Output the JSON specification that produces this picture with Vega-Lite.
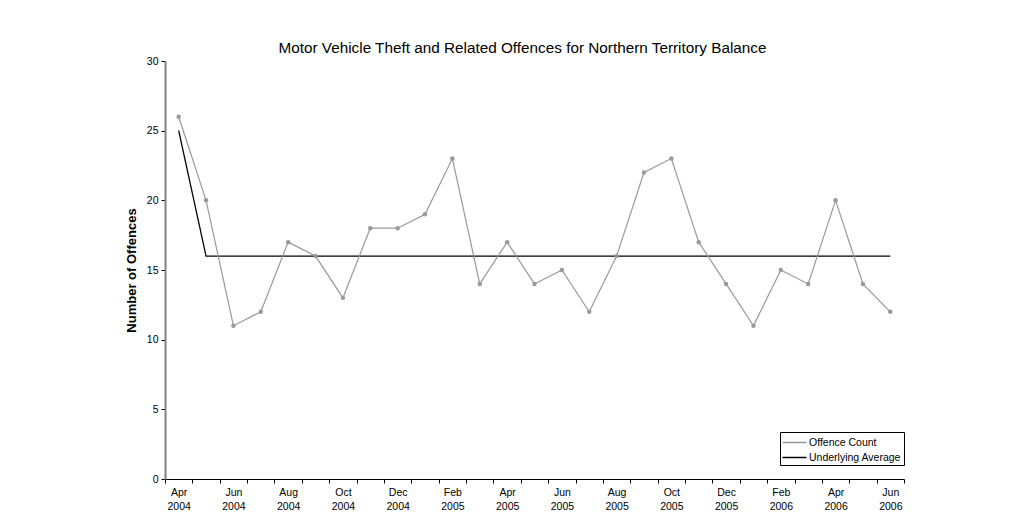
{
  "$schema": "https://vega.github.io/schema/vega-lite/v6.json",
  "autosize": {"type": "none"},
  "width": 739,
  "height": 418,
  "padding": {"left": 165, "top": 61, "right": 116, "bottom": 43},
  "background": "white",
  "config": {
    "font": "Liberation Sans",
    "view": {"stroke": null}
  },
  "title": {
    "text": "Motor Vehicle Theft and Related Offences for Northern Territory Balance",
    "fontSize": 15.3,
    "fontWeight": "normal",
    "color": "#000000",
    "offset": 0,
    "dx": -12
  },
  "data": {
    "values": [
      {"month": "Apr 2004", "series": "Offence Count", "value": 26},
      {"month": "May 2004", "series": "Offence Count", "value": 20},
      {"month": "Jun 2004", "series": "Offence Count", "value": 11},
      {"month": "Jul 2004", "series": "Offence Count", "value": 12},
      {"month": "Aug 2004", "series": "Offence Count", "value": 17},
      {"month": "Sep 2004", "series": "Offence Count", "value": 16},
      {"month": "Oct 2004", "series": "Offence Count", "value": 13},
      {"month": "Nov 2004", "series": "Offence Count", "value": 18},
      {"month": "Dec 2004", "series": "Offence Count", "value": 18},
      {"month": "Jan 2005", "series": "Offence Count", "value": 19},
      {"month": "Feb 2005", "series": "Offence Count", "value": 23},
      {"month": "Mar 2005", "series": "Offence Count", "value": 14},
      {"month": "Apr 2005", "series": "Offence Count", "value": 17},
      {"month": "May 2005", "series": "Offence Count", "value": 14},
      {"month": "Jun 2005", "series": "Offence Count", "value": 15},
      {"month": "Jul 2005", "series": "Offence Count", "value": 12},
      {"month": "Aug 2005", "series": "Offence Count", "value": 16},
      {"month": "Sep 2005", "series": "Offence Count", "value": 22},
      {"month": "Oct 2005", "series": "Offence Count", "value": 23},
      {"month": "Nov 2005", "series": "Offence Count", "value": 17},
      {"month": "Dec 2005", "series": "Offence Count", "value": 14},
      {"month": "Jan 2006", "series": "Offence Count", "value": 11},
      {"month": "Feb 2006", "series": "Offence Count", "value": 15},
      {"month": "Mar 2006", "series": "Offence Count", "value": 14},
      {"month": "Apr 2006", "series": "Offence Count", "value": 20},
      {"month": "May 2006", "series": "Offence Count", "value": 14},
      {"month": "Jun 2006", "series": "Offence Count", "value": 12},
      {"month": "Apr 2004", "series": "Underlying Average", "value": 25},
      {"month": "May 2004", "series": "Underlying Average", "value": 16},
      {"month": "Jun 2004", "series": "Underlying Average", "value": 16},
      {"month": "Jul 2004", "series": "Underlying Average", "value": 16},
      {"month": "Aug 2004", "series": "Underlying Average", "value": 16},
      {"month": "Sep 2004", "series": "Underlying Average", "value": 16},
      {"month": "Oct 2004", "series": "Underlying Average", "value": 16},
      {"month": "Nov 2004", "series": "Underlying Average", "value": 16},
      {"month": "Dec 2004", "series": "Underlying Average", "value": 16},
      {"month": "Jan 2005", "series": "Underlying Average", "value": 16},
      {"month": "Feb 2005", "series": "Underlying Average", "value": 16},
      {"month": "Mar 2005", "series": "Underlying Average", "value": 16},
      {"month": "Apr 2005", "series": "Underlying Average", "value": 16},
      {"month": "May 2005", "series": "Underlying Average", "value": 16},
      {"month": "Jun 2005", "series": "Underlying Average", "value": 16},
      {"month": "Jul 2005", "series": "Underlying Average", "value": 16},
      {"month": "Aug 2005", "series": "Underlying Average", "value": 16},
      {"month": "Sep 2005", "series": "Underlying Average", "value": 16},
      {"month": "Oct 2005", "series": "Underlying Average", "value": 16},
      {"month": "Nov 2005", "series": "Underlying Average", "value": 16},
      {"month": "Dec 2005", "series": "Underlying Average", "value": 16},
      {"month": "Jan 2006", "series": "Underlying Average", "value": 16},
      {"month": "Feb 2006", "series": "Underlying Average", "value": 16},
      {"month": "Mar 2006", "series": "Underlying Average", "value": 16},
      {"month": "Apr 2006", "series": "Underlying Average", "value": 16},
      {"month": "May 2006", "series": "Underlying Average", "value": 16},
      {"month": "Jun 2006", "series": "Underlying Average", "value": 16}
    ]
  },
  "encoding": {
    "x": {
      "field": "month",
      "type": "ordinal",
      "sort": null,
      "scale": {"paddingInner": 0, "paddingOuter": 0},
      "axis": {
        "title": null,
        "labelAngle": 0,
        "labelFontSize": 10.5,
        "labelColor": "#000000",
        "labelLineHeight": 14,
        "labelPadding": 4,
        "labelExpr": "test(/^(Feb|Apr|Jun|Aug|Oct|Dec)/, datum.label) ? split(datum.label, ' ') : ''",
        "tickBand": "extent",
        "tickSize": 4,
        "tickColor": "#000000",
        "domainColor": "#000000",
        "domainWidth": 1.2,
        "grid": false
      }
    },
    "y": {
      "field": "value",
      "type": "quantitative",
      "scale": {"domain": [0, 30], "nice": false},
      "axis": {
        "title": "Number of Offences",
        "titleFontSize": 13,
        "titleFontWeight": "bold",
        "titleColor": "#000000",
        "titlePadding": 8,
        "values": [0, 5, 10, 15, 20, 25, 30],
        "labelFontSize": 10.5,
        "labelColor": "#000000",
        "labelPadding": 3,
        "tickSize": 4,
        "tickColor": "#000000",
        "domainColor": "#808080",
        "domainWidth": 2,
        "grid": false
      }
    },
    "color": {
      "field": "series",
      "type": "nominal",
      "scale": {"domain": ["Offence Count", "Underlying Average"], "range": ["#999999", "#000000"]},
      "legend": {
        "title": null,
        "orient": "none",
        "legendX": 615,
        "legendY": 371,
        "strokeColor": "#000000",
        "fillColor": "#ffffff",
        "padding": 2,
        "rowPadding": 1,
        "labelFontSize": 10.5,
        "labelColor": "#000000",
        "labelOffset": 6,
        "symbolOffset": 4,
        "symbolType": "M-1.6,0H1.6",
        "symbolSize": 225,
        "symbolStrokeWidth": 1.5
      }
    }
  },
  "layer": [
    {
      "transform": [{"filter": "datum.series == 'Underlying Average'"}],
      "mark": {"type": "line", "strokeWidth": 1.3}
    },
    {
      "transform": [{"filter": "datum.series == 'Offence Count'"}],
      "mark": {"type": "line", "strokeWidth": 1.2, "point": {"filled": true, "size": 20, "opacity": 1}}
    }
  ]
}
